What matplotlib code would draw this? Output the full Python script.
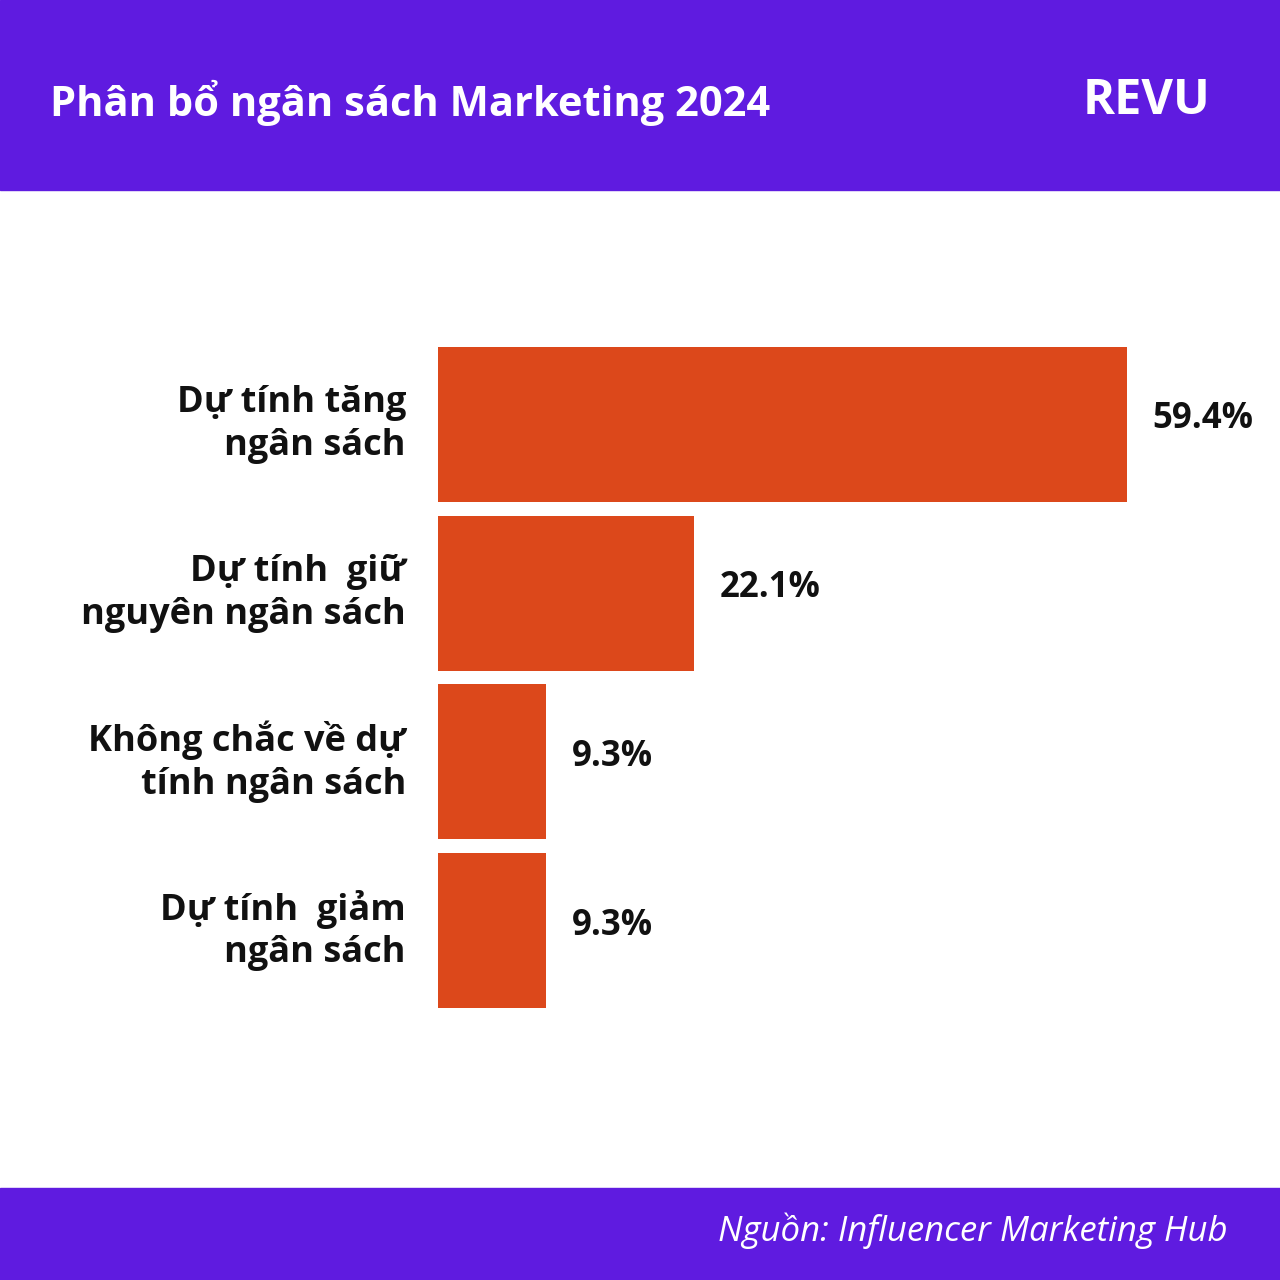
import matplotlib.pyplot as plt
from matplotlib.patches import Rectangle
from matplotlib.transforms import blended_transform_factory

PURPLE = "#5F1BE0"
ORANGE = "#DC481B"
FONT = "Open Sans"

categories = [
    "Dự tính tăng\nngân sách",
    "Dự tính  giữ\nnguyên ngân sách",
    "Không chắc về dự\ntính ngân sách",
    "Dự tính  giảm\nngân sách",
]
values = [59.4, 22.1, 9.3, 9.3]
value_labels = ["59.4%", "22.1%", "9.3%", "9.3%"]

fig = plt.figure(figsize=(12.8, 12.8), dpi=100)
fig.patch.set_facecolor("white")

# header and footer bands
fig.patches.append(Rectangle((0, 1 - 190 / 1280), 1, 190 / 1280, transform=fig.transFigure,
                             color=PURPLE, zorder=0))
fig.patches.append(Rectangle((0, 0), 1, 92 / 1280, transform=fig.transFigure,
                             color=PURPLE, zorder=0))
fig.text(50 / 1280, 1 - 103 / 1280, "Phân bổ ngân sách Marketing 2024", color="white",
         fontsize=30, fontweight="bold", family=FONT, va="center", ha="left")
fig.text(1210 / 1280, 1 - 101 / 1280, "REVU", color="white",
         fontsize=35, fontweight="bold", family=FONT, va="center", ha="right")
fig.text(1228 / 1280, 1 - 1231 / 1280, "Nguồn: Influencer Marketing Hub", color="white",
         fontsize=25, style="italic", family=FONT, va="center", ha="right")

ax = fig.add_axes([438 / 1280, 1 - 1008 / 1280, 842 / 1280, 661 / 1280])
ypos = list(range(len(values)))
bar_h = 155 / 169
ax.barh(ypos, values, height=bar_h, color=ORANGE, left=0)
ax.set_xlim(0, 842 / 11.6)
ax.set_ylim(len(values) - 1 + bar_h / 2, -bar_h / 2)
ax.axis("off")

trans = blended_transform_factory(fig.transFigure, ax.transData)
for y, cat in zip(ypos, categories):
    ax.text(406 / 1280, y, cat, transform=trans, ha="right", va="center",
            fontsize=26, fontweight="bold", family=FONT, linespacing=1.25, color="#111111")
for y, v, lab in zip(ypos, values, value_labels):
    ax.text(v + 2.2, y - 0.03, lab, ha="left", va="center", fontsize=25,
            fontweight="bold", family=FONT, color="#111111")

fig.savefig("out.png", dpi=100)
